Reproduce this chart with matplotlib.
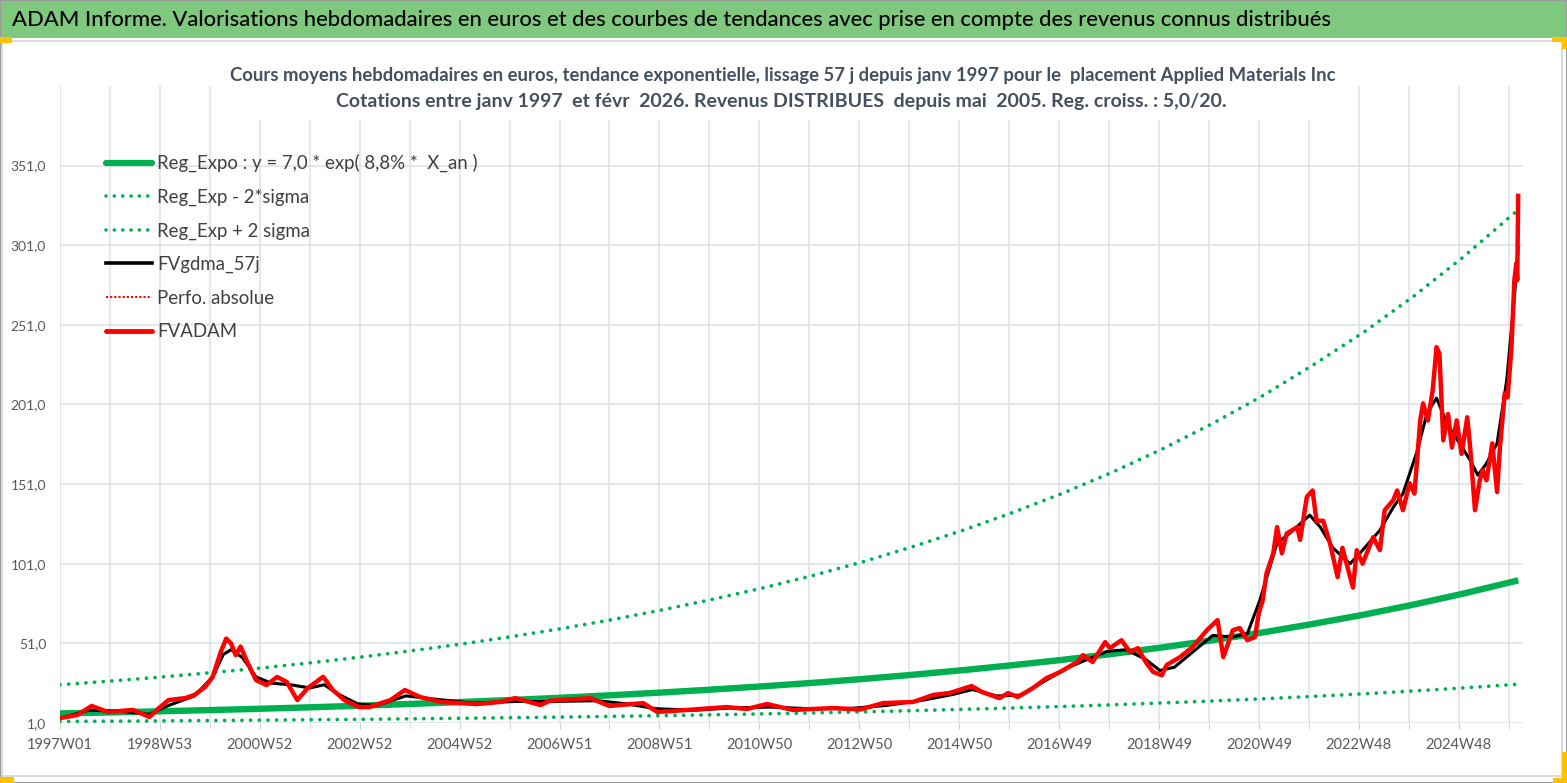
import matplotlib
matplotlib.use("Agg")
import matplotlib.pyplot as plt
from matplotlib.lines import Line2D
from matplotlib.patches import Rectangle
from matplotlib.ticker import FuncFormatter

plt.rcParams['font.family'] = ['Lato', 'DejaVu Sans']

# x = week index, 0 = 1997W01
reg_weeks = [0, 52, 104, 157, 209, 261, 313, 365, 417, 470, 522, 574, 626, 678, 731,
             783, 835, 887, 939, 991, 1044, 1096, 1148, 1200, 1252, 1304, 1357, 1409,
             1461, 1513, 1518]
reg_expo = [7.0, 7.64, 8.35, 9.12, 9.95, 10.87, 11.87, 12.96, 14.16, 15.46, 16.88, 18.43,
            20.13, 21.98, 24.0, 26.2, 28.61, 31.25, 34.12, 37.26, 40.69, 44.43, 48.52,
            52.98, 57.85, 63.18, 68.99, 75.33, 82.26, 89.83, 90.6]
reg_low = [1.96, 2.14, 2.34, 2.55, 2.79, 3.04, 3.32, 3.63, 3.97, 4.33, 4.73, 5.16, 5.64,
           6.16, 6.72, 7.34, 8.01, 8.75, 9.56, 10.44, 11.4, 12.45, 13.59, 14.84, 16.2,
           17.7, 19.32, 21.1, 23.04, 25.16, 25.4]
reg_high = [25.0, 27.3, 29.8, 32.6, 35.5, 38.8, 42.4, 46.3, 50.5, 55.2, 60.3, 65.8, 71.9,
            78.5, 85.7, 93.5, 102.1, 111.6, 121.8, 133.0, 145.3, 158.6, 173.2, 189.1,
            206.5, 225.6, 246.3, 268.9, 293.7, 320.7, 323.0]

adam_weeks = [0, 18, 33, 50, 76, 93, 103, 113, 130, 140, 151, 159, 167, 173, 178, 183,
              188, 194, 199, 204, 215, 226, 236, 247, 258, 274, 284, 296, 311, 322, 344,
              359, 375, 397, 434, 458, 474, 500, 510, 552, 572, 607, 622, 653, 694, 715,
              736, 763, 805, 833, 857, 888, 909, 926, 949, 960, 978, 987, 997, 1013, 1027,
              1041, 1059, 1065, 1075, 1088, 1093, 1105, 1114, 1122, 1131, 1138, 1147, 1152,
              1166, 1179, 1194, 1205, 1211, 1221, 1228, 1236, 1244, 1248, 1252, 1256, 1263,
              1267, 1272, 1277, 1288, 1291, 1298, 1304, 1308, 1315, 1322, 1330, 1335, 1346,
              1350, 1356, 1367, 1374, 1379, 1388, 1392, 1398, 1405, 1410, 1416, 1419, 1424,
              1429, 1433, 1436, 1440, 1445, 1449, 1454, 1459, 1465, 1468, 1473, 1478, 1481,
              1485, 1491, 1496, 1499, 1504, 1507, 1511, 1514, 1516, 1517, 1518]
fvadam = [4.1, 6.0, 11.7, 7.9, 9.2, 4.8, 10.4, 15.4, 16.6, 18.6, 23.6, 30.0, 45.0, 54.0,
          51.0, 43.6, 49.0, 40.5, 34.2, 28.0, 24.8, 29.9, 26.8, 15.4, 23.0, 30.0, 21.7,
          15.4, 11.0, 11.0, 15.4, 21.7, 17.3, 14.2, 12.9, 14.2, 16.6, 12.3, 15.0, 16.6,
          11.7, 13.5, 7.9, 9.2, 11.0, 9.8, 12.9, 9.2, 10.4, 9.5, 13.5, 14.2, 18.6, 19.8,
          24.2, 20.4, 16.6, 19.8, 17.3, 23.0, 29.2, 33.0, 39.3, 43.6, 39.3, 51.8, 48.0,
          53.0, 45.5, 48.0, 38.6, 33.0, 31.0, 37.4, 42.4, 48.7, 59.3, 65.6, 42.4, 59.3,
          60.6, 53.0, 55.0, 70.0, 78.0, 95.0, 107.6, 124.0, 107.6, 120.0, 124.0, 116.0,
          143.0, 147.0, 128.0, 128.0, 114.0, 92.6, 111.0, 86.0, 109.5, 101.0, 117.7,
          109.5, 134.6, 141.0, 147.0, 134.6, 151.6, 145.0, 191.0, 201.7, 191.0, 210.0,
          237.0, 233.0, 178.5, 195.0, 174.0, 191.0, 170.0, 193.0, 174.0, 134.6, 153.4,
          159.7, 153.4, 176.6, 146.0, 174.0, 208.0, 205.5, 237.0, 279.0, 289.6, 279.0,
          332.0]

gdma_weeks = [0, 30, 60, 93, 113, 140, 159, 170, 178, 190, 204, 220, 240, 260, 275, 290,
              310, 330, 360, 390, 430, 470, 510, 560, 590, 620, 660, 700, 740, 780, 820,
              860, 900, 930, 950, 975, 1000, 1027, 1050, 1070, 1090, 1110, 1130, 1145,
              1160, 1180, 1200, 1220, 1236, 1249, 1267, 1280, 1301, 1312, 1325, 1343, 1356,
              1374, 1388, 1398, 1413, 1423, 1433, 1444, 1457, 1468, 1476, 1485, 1496, 1506,
              1514, 1518]
fvgdma = [4.0, 9.0, 8.5, 6.5, 12.0, 18.0, 30.0, 44.0, 47.0, 42.0, 30.0, 26.0, 25.0, 23.0,
          25.0, 19.0, 13.0, 12.0, 18.0, 16.0, 13.5, 14.5, 14.5, 15.0, 13.0, 10.0, 9.0,
          10.5, 11.0, 10.0, 10.0, 12.0, 15.5, 19.0, 22.0, 18.0, 18.5, 28.0, 36.0, 41.0,
          46.0, 47.0, 41.0, 34.0, 36.0, 46.0, 56.0, 55.0, 57.0, 78.0, 114.0, 120.0, 131.5,
          124.0, 111.0, 101.0, 109.5, 122.0, 136.5, 145.0, 172.0, 195.5, 205.0, 189.0,
          176.6, 166.0, 156.6, 164.0, 176.6, 216.0, 268.0, 299.6]

xtick_labels = ["1997W01", "1998W53", "2000W52", "2002W52", "2004W52", "2006W51",
                "2008W51", "2010W50", "2012W50", "2014W50", "2016W49", "2018W49",
                "2020W49", "2022W48", "2024W48"]
ytick_values = [1, 51, 101, 151, 201, 251, 301, 351]

W, H = 1567, 783
GREEN = '#00B050'
GRID = '#DCE0E8'


def fx(x):
    return x / W


def fy(y):
    return 1 - y / H


fig = plt.figure(figsize=(W / 100, H / 100), dpi=100)

# header band and chart frame
fig.add_artist(Rectangle((0, fy(38)), 1, 38 / H, transform=fig.transFigure,
                         facecolor='#7EC97E', edgecolor='none', zorder=1))
fig.add_artist(Rectangle((fx(2), fy(776)), fx(1560), (776 - 41) / H, transform=fig.transFigure,
                         facecolor='none', edgecolor='#D4D4D4', lw=1.2, zorder=1))
fig.add_artist(Rectangle((0, 0), 1, 1, transform=fig.transFigure,
                         facecolor='none', edgecolor='#9A9A9A', lw=1.5, zorder=1))
for (x0, y0, w, h) in [(0, 37, 12, 6), (1552, 37, 15, 5), (1562, 37, 5, 12),
                       (0, 777, 14, 6), (1553, 778, 14, 5), (1562, 752, 5, 30)]:
    fig.add_artist(Rectangle((fx(x0), fy(y0 + h)), w / W, h / H, transform=fig.transFigure,
                             facecolor='#FFC000', edgecolor='none', zorder=2))
fig.text(fx(12), fy(20), "ADAM Informe. Valorisations hebdomadaires en euros et des courbes "
         "de tendances avec prise en compte des revenus connus distribués",
         fontsize=15.8, fontweight='medium', color='black', ha='left', va='center', zorder=4)

ax = fig.add_axes([fx(60), fy(723), (1523 - 60) / W, (723 - 86) / H])
ax.plot(reg_weeks, reg_low, color=GREEN, lw=2.7, ls=(0, (0.01, 2.3)),
        dash_capstyle='round', zorder=2)
ax.plot(reg_weeks, reg_high, color=GREEN, lw=2.7, ls=(0, (0.01, 2.3)),
        dash_capstyle='round', zorder=2)
ax.plot(reg_weeks, reg_expo, color=GREEN, lw=4.6, solid_capstyle='butt', zorder=3)
ax.plot(gdma_weeks, fvgdma, color='black', lw=2.2, zorder=4)
ax.plot(adam_weeks, fvadam, color='#FF0000', lw=3.2, solid_joinstyle='round', zorder=5)

ax.set_xlim(0, 1523)
ax.set_ylim(1, 401)
ax.set_xticks(range(0, 1457, 104))
ax.set_xticklabels(xtick_labels)
ax.set_xticks(range(0, 1523, 52), minor=True)
ax.set_yticks(ytick_values)
ax.yaxis.set_major_formatter(FuncFormatter(lambda v, p: f"{v:.1f}".replace('.', ',')))
ax.grid(True, which='both', axis='x', color=GRID, lw=1.1, zorder=0)
ax.grid(True, which='major', axis='y', color=GRID, lw=1.1, zorder=0)
ax.set_axisbelow(True)
for s in ax.spines.values():
    s.set_visible(False)
ax.tick_params(axis='x', which='both', length=4, color='#D0D0D0', labelsize=10.5,
               labelcolor='#595959', pad=7)
ax.tick_params(axis='y', length=0, labelsize=10, labelcolor='#595959', pad=10)

handles = [
    Line2D([], [], color=GREEN, lw=4.5, solid_capstyle='round'),
    Line2D([], [], color=GREEN, lw=2.6, ls=(0, (0.01, 2.3)), dash_capstyle='round'),
    Line2D([], [], color=GREEN, lw=2.6, ls=(0, (0.01, 2.3)), dash_capstyle='round'),
    Line2D([], [], color='black', lw=2.6),
    Line2D([], [], color='#FF0000', lw=1.5, ls=(0, (1, 1))),
    Line2D([], [], color='#FF0000', lw=3.5, solid_capstyle='round'),
]
labels = ["Reg_Expo : y = 7,0 * exp( 8,8% *  X_an )", "Reg_Exp - 2*sigma",
          "Reg_Exp + 2 sigma", "FVgdma_57j", "Perfo. absolue", "FVADAM"]
ax.legend(handles, labels, loc='upper left', bbox_to_anchor=(fx(106), fy(154)),
          bbox_transform=fig.transFigure, frameon=False, borderpad=0, borderaxespad=0,
          handlelength=2.45, handletextpad=0.28, labelspacing=0.88, fontsize=13.4,
          labelcolor='#404040')

# chart title box
fig.add_artist(Rectangle((fx(230), fy(120)), (1340 - 230) / W, 62 / H,
                         transform=fig.transFigure, facecolor='white', edgecolor='none',
                         zorder=3))
fig.text(fx(783), fy(75), "Cours moyens hebdomadaires en euros, tendance exponentielle, lissage "
         "57 j depuis janv 1997 pour le  placement Applied Materials Inc",
         fontsize=13.3, fontweight='bold', color='#44505F', ha='center', va='center', zorder=4)
fig.text(fx(781), fy(101), "Cotations entre janv 1997  et févr  2026. Revenus DISTRIBUES  "
         "depuis mai  2005. Reg. croiss. : 5,0/20.",
         fontsize=14.0, fontweight='bold', color='#44505F', ha='center', va='center', zorder=4)

fig.savefig("out.png", dpi=100)
